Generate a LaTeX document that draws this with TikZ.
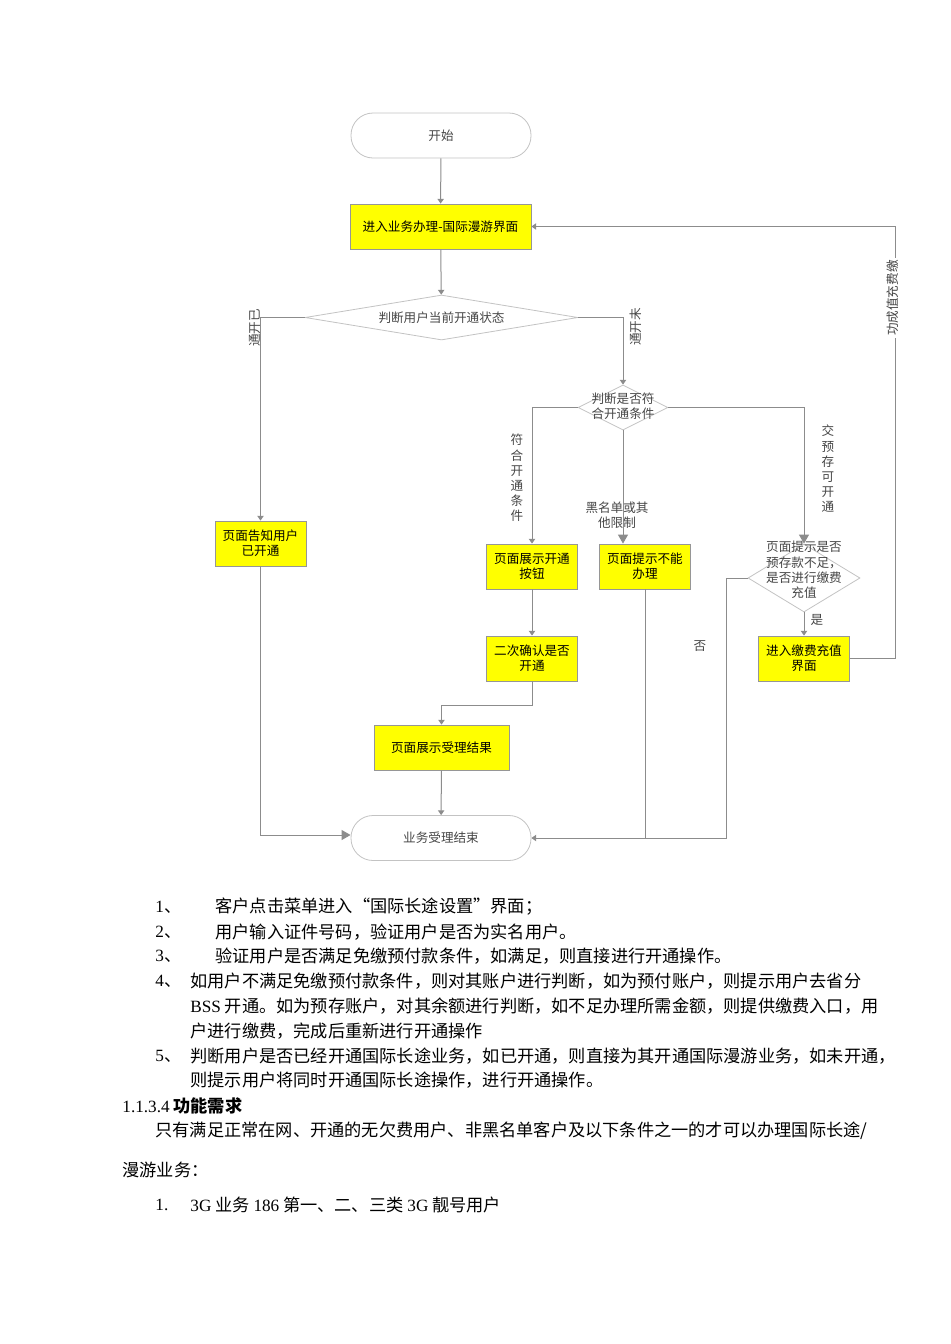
\documentclass[tikz,border=0pt]{standalone}
\usepackage{fontspec}
\setmainfont{Liberation Serif}
\newfontfamily\cjk{Noto Sans CJK SC}
\usetikzlibrary{shapes.geometric,arrows.meta}

\definecolor{boxyellow}{RGB}{255,255,0}
\definecolor{boxgray}{RGB}{150,150,150}
\definecolor{linegray}{RGB}{140,140,140}
\definecolor{termgray}{RGB}{195,195,195}
\definecolor{labelgray}{RGB}{70,70,70}

\newcommand{\boxfont}{\cjk\fontsize{6.3}{7.6}\selectfont}
\newcommand{\bodyfont}{\cjk\fontsize{8.6}{10.3}\selectfont}

\tikzset{
  flowline/.style={draw=linegray, line width=0.5pt},
  arr/.style={flowline, -{Triangle[width=3.2pt,length=2.4pt]}},
  bigarr/.style={flowline, -{Triangle[width=5pt,length=4.5pt]}},
  terminal/.style={draw=termgray, fill=white, rounded corners=11pt,
    minimum width=90pt, minimum height=22.5pt, inner sep=0pt,
    font=\boxfont, text=labelgray},
  yellowbox/.style={draw=boxgray, fill=boxyellow, minimum width=45.5pt,
    minimum height=22.5pt, inner sep=1pt, align=center, font=\boxfont},
  decision/.style={diamond, draw=termgray, fill=white, inner sep=0pt},
  flowlabel/.style={font=\boxfont, text=labelgray, align=center, inner sep=0pt},
  bodytext/.style={anchor=west, inner sep=0pt, font=\bodyfont},
}

\begin{document}
\begin{tikzpicture}[x=0.5pt,y=-0.5pt]
\useasboundingbox (0,0) rectangle (950,1344);

% flowchart nodes
\node[terminal] (start) at (441,135.5) {开始};
\node[yellowbox, minimum width=90.5pt] (enter) at (440.5,226.5) {进入业务办理-国际漫游界面};
\node[decision, minimum width=136.5pt, minimum height=22.5pt] (judge) at (441.5,317.5) {};
\node[flowlabel] (judgetext) at (judge) {判断用户当前开通状态};
\node[yellowbox] (told) at (260.5,543.5) {页面告知用户\\已开通};
\node[decision, minimum width=45pt, minimum height=22.5pt] (meet) at (623,407.5) {};
\node[flowlabel] (meettext) at (623,406) {判断是否符\\合开通条件};
\node[yellowbox] (showbtn) at (532,566.5) {页面展示开通\\按钮};
\node[yellowbox] (deny) at (645,566.5) {页面提示不能\\办理};
\node[decision, minimum width=56pt, minimum height=34pt] (prepay) at (804,578) {};
\node[flowlabel] (prepaytext) at (804,570) {页面提示是否\\预存款不足，\\是否进行缴费\\充值};
\node[yellowbox] (recharge) at (804,658.5) {进入缴费充值\\界面};
\node[yellowbox] (confirm) at (532,658.5) {二次确认是否\\开通};
\node[yellowbox, minimum width=67.5pt] (result) at (441.5,747.5) {页面展示受理结果};
\node[terminal] (finish) at (441,838) {业务受理结束};

% bend points
\coordinate (loop) at (895,658.5);
\coordinate (nobend) at (726,578);
\coordinate (mid) at (532,705);

% connectors
\draw[arr] (start) -- (enter);
\draw[arr] (enter) -- (judge);
\draw[arr] (judge.west) -| (told.north);
\draw[arr] (judge.east) -| (meet.north);
\draw[arr] (meet.west) -| (showbtn.north);
\draw[bigarr] (meet.south) -- (meet.south |- deny.north);
\draw[bigarr] (meet.east) -| (prepay.north);
\draw[arr] (prepay.south) -- (recharge.north);
\draw[arr] (recharge.east) -- (loop) |- (enter.east);
\draw[arr] (prepay.west) -- (nobend) |- (finish.east);
\draw[flowline] (deny.south) -- (deny.south |- finish.east);
\draw[arr] (showbtn) -- (confirm);
\draw[arr] (confirm.south) -- (mid) -| (result.north);
\draw[arr] (result) -- (finish);
\draw[bigarr] (told.south) |- ([yshift=1.5pt]finish.west);

% connector labels
\node[flowlabel, rotate=90] (doneopen) at (255,328) {通开已};
\node[flowlabel, rotate=90] (notopen) at (636,327) {通开未};
\node[flowlabel, rotate=90, fill=white, inner sep=1pt] (paidok) at (893,298) {功成值充费缴};
\node[flowlabel] (fitcond) at (517,478) {符\\合\\开\\通\\条\\件};
\node[flowlabel] (blacklist) at (617,515) {黑名单或其\\他限制};
\node[flowlabel] (prepaid) at (828,469) {交\\预\\存\\可\\开\\通};
\node[flowlabel] (nolabel) at (700,646) {否};
\node[flowlabel] (yeslabel) at (817,620) {是};

% text below the chart
\node[bodytext] (num1) at (155,907) {{\rmfamily 1}、};
\node[bodytext] (step1) at (215,907) {客户点击菜单进入“国际长途设置”界面；};
\node[bodytext] (num2) at (155,932) {{\rmfamily 2}、};
\node[bodytext] (step2) at (215,932) {用户输入证件号码，验证用户是否为实名用户。};
\node[bodytext] (num3) at (155,956) {{\rmfamily 3}、};
\node[bodytext] (step3) at (215,956) {验证用户是否满足免缴预付款条件，如满足，则直接进行开通操作。};
\node[bodytext] (num4) at (155,981) {{\rmfamily 4}、};
\node[bodytext] (step4) at (190,981) {如用户不满足免缴预付款条件，则对其账户进行判断，如为预付账户，则提示用户去省分};
\node[bodytext] (step4b) at (190,1006) {{\rmfamily BSS} 开通。如为预存账户，对其余额进行判断，如不足办理所需金额，则提供缴费入口，用};
\node[bodytext] (step4c) at (190,1031) {户进行缴费，完成后重新进行开通操作};
\node[bodytext] (num5) at (155,1056) {{\rmfamily 5}、};
\node[bodytext] (step5) at (190,1056) {判断用户是否已经开通国际长途业务，如已开通，则直接为其开通国际漫游业务，如未开通，};
\node[bodytext] (step5b) at (190,1080) {则提示用户将同时开通国际长途操作，进行开通操作。};
\node[bodytext, font=\cjk\fontsize{8.6}{10.3}\selectfont] (heading) at (122,1106) {{\rmfamily 1.1.3.4} {\bfseries 功能需求}};
\node[bodytext] (need1) at (155,1131) {只有满足正常在网、开通的无欠费用户、非黑名单客户及以下条件之一的才可以办理国际长途/};
\node[bodytext] (need2) at (122,1170) {漫游业务：};
\node[bodytext] (numa) at (155,1205) {{\rmfamily 1.}};
\node[bodytext] (itema) at (190,1205) {{\rmfamily 3G} 业务 {\rmfamily 186} 第一、二、三类 {\rmfamily 3G} 靓号用户};
\end{tikzpicture}
\end{document}
